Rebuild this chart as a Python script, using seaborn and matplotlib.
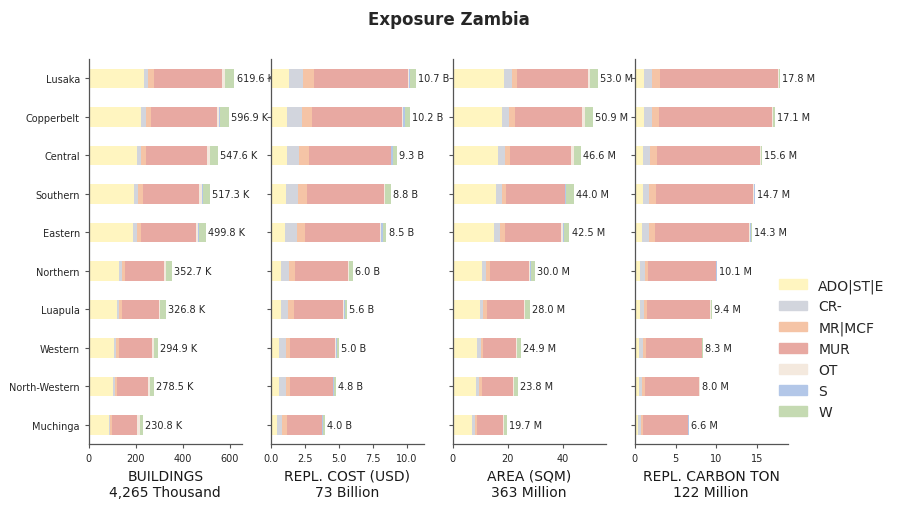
import numpy as np
import matplotlib
matplotlib.use("Agg")
import matplotlib.pyplot as plt
import matplotlib.patches as mpatches
import seaborn as sns

provinces = ["Lusaka", "Copperbelt", "Central", "Southern", "Eastern",
             "Northern", "Luapula", "Western", "North-Western", "Muchinga"]
categories = ["ADO|ST|E", "CR-", "MR|MCF", "MUR", "OT", "S", "W"]
colors = ["#fff5c0", "#d2d5dd", "#f5c4a6", "#e8a9a2", "#f4e9de", "#b3c7e8", "#c5dab2"]

# buildings, thousands (columns follow categories)
buildings = [
    [233, 17, 26, 289, 13, 1, 40.6],
    [224, 18, 21, 281, 10, 3, 39.9],
    [203, 21, 18, 259, 13, 1, 32.6],
    [194, 17, 18, 241, 13, 1, 33.3],
    [186, 17, 17, 237, 9, 1, 32.8],
    [130, 12, 13, 164, 8, 1, 24.7],
    [121, 8, 13, 156, 3, 3, 22.8],
    [108, 8, 13, 139, 8, 1, 17.9],
    [104, 8, 9, 129, 9, 1, 18.5],
    [86, 5, 8, 108, 9, 1, 13.8],
]
# replacement cost, billion USD
repl_cost = [
    [1.31, 1.03, 0.81, 6.95, 0.07, 0.07, 0.46],
    [1.23, 1.04, 0.73, 6.65, 0.08, 0.14, 0.33],
    [1.16, 0.89, 0.74, 6.05, 0.02, 0.13, 0.31],
    [1.09, 0.88, 0.67, 5.68, 0.08, 0.02, 0.38],
    [1.01, 0.89, 0.59, 5.54, 0.07, 0.15, 0.25],
    [0.72, 0.59, 0.44, 3.91, 0.08, 0.03, 0.26],
    [0.72, 0.52, 0.44, 3.62, 0.07, 0.07, 0.16],
    [0.57, 0.52, 0.36, 3.25, 0.08, 0.07, 0.15],
    [0.57, 0.52, 0.29, 3.18, 0.05, 0.05, 0.14],
    [0.49, 0.37, 0.30, 2.58, 0.02, 0.07, 0.17],
]
# area, million sqm
area = [
    [18.6, 2.9, 1.8, 25.8, 0.7, 0.1, 3.1],
    [17.9, 2.6, 2.1, 24.6, 0.8, 0.1, 2.8],
    [16.4, 2.6, 1.8, 22.4, 0.8, 0.1, 2.5],
    [15.7, 2.2, 1.5, 21.3, 0.3, 0.3, 2.7],
    [14.9, 2.2, 1.8, 20.6, 0.8, 0.1, 2.1],
    [10.5, 1.5, 1.5, 14.3, 0.3, 0.4, 1.5],
    [9.8, 1.4, 1.1, 13.6, 0.4, 0.1, 1.6],
    [8.7, 1.5, 0.8, 12.0, 0.4, 0.1, 1.4],
    [8.3, 1.1, 1.1, 11.4, 0.4, 0.1, 1.4],
    [6.9, 1.1, 0.7, 9.6, 0.3, 0.1, 1.0],
]
# replacement carbon, million ton
carbon = [
    [1.19, 0.99, 0.86, 14.51, 0.12, 0.02, 0.11],
    [1.19, 0.99, 0.74, 13.88, 0.13, 0.02, 0.15],
    [1.07, 0.86, 0.74, 12.66, 0.08, 0.02, 0.17],
    [1.07, 0.74, 0.74, 11.95, 0.13, 0.02, 0.05],
    [0.95, 0.86, 0.62, 11.60, 0.07, 0.17, 0.03],
    [0.70, 0.62, 0.37, 8.24, 0.04, 0.11, 0.02],
    [0.70, 0.49, 0.37, 7.63, 0.12, 0.03, 0.06],
    [0.58, 0.49, 0.37, 6.76, 0.05, 0.03, 0.02],
    [0.58, 0.37, 0.37, 6.51, 0.12, 0.03, 0.02],
    [0.46, 0.36, 0.25, 5.43, 0.02, 0.08, 0.00],
]

panels = [
    (buildings, "BUILDINGS", "K", "Thousand"),
    (repl_cost, "REPL. COST (USD)", "B", "Billion"),
    (area, "AREA (SQM)", "M", "Million"),
    (carbon, "REPL. CARBON TON", "M", "Million"),
]

sns.set_theme(style="ticks")
fig, axes = plt.subplots(1, 4, figsize=(8.97, 5.10), dpi=100, sharey=True)
fig.subplots_adjust(left=0.099, right=0.878, top=0.882, bottom=0.127, wspace=0.19)

for ax, (data, label, unit, word) in zip(axes, panels):
    vals = np.array(data)
    cum = vals.cumsum(axis=1)
    totals = cum[:, -1]
    # draw cumulative bars back to front so they look stacked
    for j in range(len(categories) - 1, -1, -1):
        sns.barplot(x=cum[:, j], y=provinces, orient="h", color=colors[j],
                    width=0.5, saturation=1, ax=ax, linewidth=0)
    for i, t in enumerate(totals):
        ax.annotate(f"{t:.1f} {unit}", (t, i), xytext=(1.5, 0),
                    textcoords="offset points", va="center", ha="left",
                    fontsize=7, color="#262626", annotation_clip=False)
    grand = totals.sum()
    ax.set_xlim(0, totals.max() * 1.05)
    ax.set_xlabel(f"{label}\n{grand:,.0f} {word}", fontsize=10, color="#1a1a1a")
    ax.set_ylabel("")
    ax.tick_params(axis="both", labelsize=7, length=3, width=0.8, color="#555555")
    sns.despine(ax=ax)
    for side in ["left", "bottom"]:
        ax.spines[side].set_color("#555555")
        ax.spines[side].set_linewidth(0.9)

handles = [mpatches.Patch(color=c, label=n) for c, n in zip(colors, categories)]
fig.legend(handles=handles, loc="center left", bbox_to_anchor=(0.855, 0.315),
           frameon=False, fontsize=10, handlelength=2.0, labelspacing=0.5)

fig.suptitle("Exposure Zambia", fontsize=12, fontweight="bold", y=0.978)
fig.savefig("out.png", dpi=100)
